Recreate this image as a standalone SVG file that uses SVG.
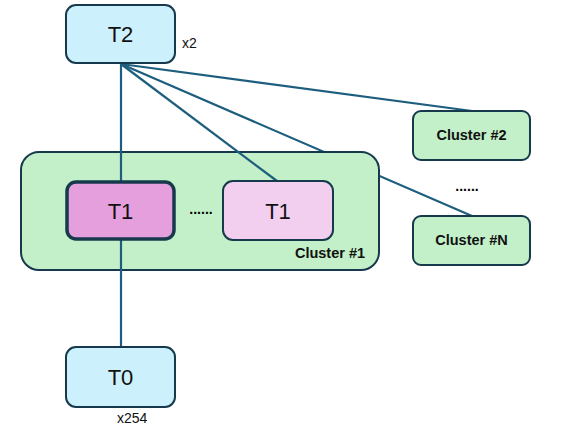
<svg xmlns="http://www.w3.org/2000/svg" width="561" height="439" viewBox="0 0 561 439">
<style>
.box{stroke:#163a4c;stroke-width:2}
.blue{fill:#ccf0fc}
.green{fill:#c3f0c8}
.big{font-family:"Liberation Sans",Arial,sans-serif;font-size:22px;fill:#111;text-anchor:middle}
.lbl{font-family:"Liberation Sans",Arial,sans-serif;font-size:14.5px;font-weight:bold;fill:#111;text-anchor:middle}
.sm{font-family:"Liberation Sans",Arial,sans-serif;font-size:14px;fill:#111}
.dots{font-family:"Liberation Sans",Arial,sans-serif;font-size:14px;font-weight:bold;fill:#000;text-anchor:middle}
.ln{stroke:#1d5e7e;stroke-width:2.2;fill:none}
</style>
<rect width="561" height="439" fill="#fff"/>
<g id="connectors">
<line class="ln" x1="121" y1="64" x2="472" y2="216"/>
<line class="ln" x1="121" y1="64" x2="472" y2="111"/>
</g>
<g id="cluster1">
<rect class="box green" x="21" y="152" width="358" height="118" rx="18"/>
<text class="lbl" x="330" y="258">Cluster #1</text>
</g>
<g id="connectors2">
<line class="ln" x1="121" y1="64" x2="121" y2="181"/>
<line class="ln" x1="121" y1="64" x2="277" y2="181"/>
<line class="ln" x1="121" y1="240" x2="121" y2="347"/>
</g>
<g id="t2">
<rect class="box blue" x="66" y="5" width="109" height="58" rx="10"/>
<text class="big" x="120.5" y="42">T2</text>
<text class="sm" x="182" y="48">x2</text>
</g>
<g id="t1a">
<rect x="67" y="182" width="107" height="57" rx="9" fill="#e49fdc" stroke="#163a4c" stroke-width="3.5"/>
<text class="big" x="120.5" y="219">T1</text>
</g>
<text class="dots" x="201" y="214">......</text>
<g id="t1b">
<rect class="box" x="223" y="181" width="110" height="59" rx="10" fill="#f2cfee"/>
<text class="big" x="278" y="219">T1</text>
</g>
<g id="cluster2">
<rect class="box green" x="413" y="111" width="117" height="49" rx="8"/>
<text class="lbl" x="471.5" y="140">Cluster #2</text>
</g>
<text class="dots" x="467" y="191">......</text>
<g id="clusterN">
<rect class="box green" x="413" y="216" width="117" height="49" rx="8"/>
<text class="lbl" x="471.5" y="245">Cluster #N</text>
</g>
<g id="t0">
<rect class="box blue" x="66" y="347" width="109" height="60" rx="10"/>
<text class="big" x="120.5" y="385">T0</text>
<text class="sm" x="117" y="423">x254</text>
</g>
</svg>
